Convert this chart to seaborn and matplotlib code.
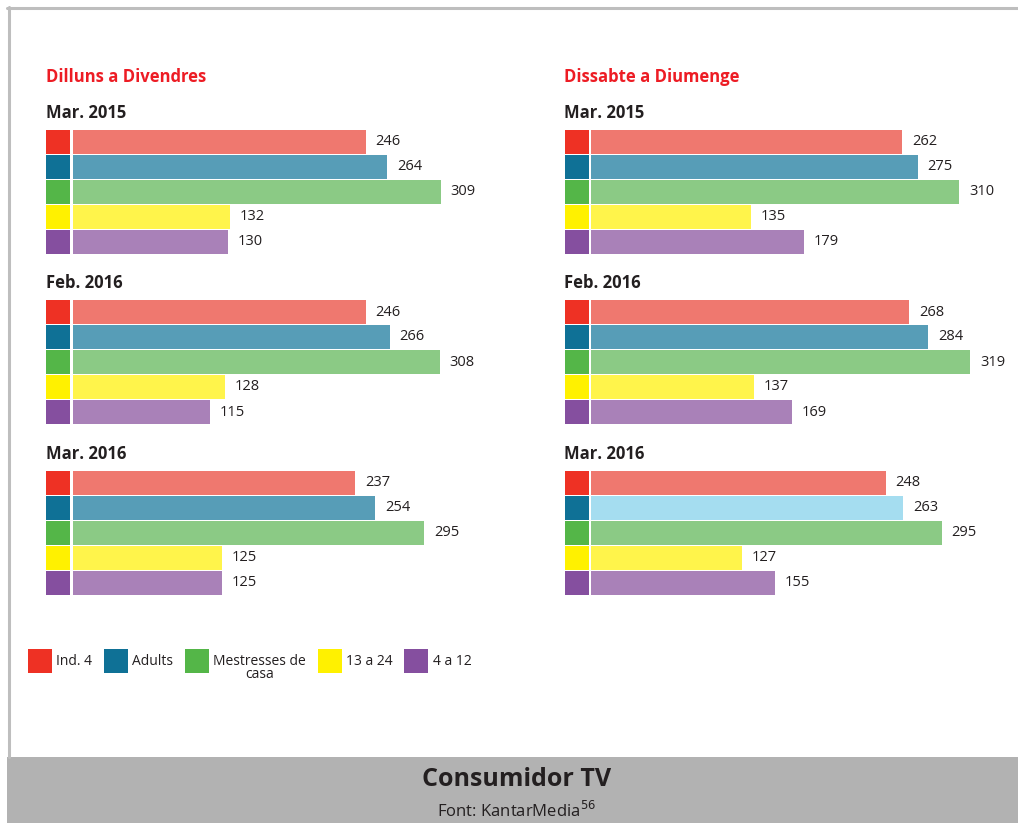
import matplotlib
matplotlib.use("Agg")
import matplotlib.pyplot as plt
import seaborn as sns
import pandas as pd
from matplotlib.patches import Rectangle, Patch
from matplotlib.lines import Line2D

# Data
categories = ["Ind. 4", "Adults", "Mestresses de casa", "13 a 24", "4 a 12"]
periods = ["Mar. 2015", "Feb. 2016", "Mar. 2016"]
sections = ["Dilluns a Divendres", "Dissabte a Diumenge"]

weekday_mar15 = [246, 264, 309, 132, 130]
weekday_feb16 = [246, 266, 308, 128, 115]
weekday_mar16 = [237, 254, 295, 125, 125]
weekend_mar15 = [262, 275, 310, 135, 179]
weekend_feb16 = [268, 284, 319, 137, 169]
weekend_mar16 = [248, 263, 295, 127, 155]

key_colors = ["#EE3124", "#0F7196", "#54B648", "#FFF100", "#854F9F"]
bar_colors = ["#EF786F", "#579DB7", "#8BCA85", "#FFF44B", "#A981B8"]
bar_colors_alt = ["#EF786F", "#A5DDF0", "#8BCA85", "#FFF44B", "#A981B8"]

TXT = "#231F20"
RED = "#ED1C24"

sns.set_theme(style="white")
plt.rcParams["font.family"] = ["Open Sans", "DejaVu Sans"]

W, H = 1018, 823
fig = plt.figure(figsize=(W / 100, H / 100), dpi=100)


def px_axes(left, top, width, height):
    return fig.add_axes([left / W, 1 - (top + height) / H, width / W, height / H])


PX_PER_UNIT = 1.19
GROUP_H = 125
group_tops = [129, 299.5, 470]
columns = [
    {"title": sections[0], "key_x": 46, "bar_x": 73,
     "values": [weekday_mar15, weekday_feb16, weekday_mar16],
     "colors": [bar_colors, bar_colors, bar_colors]},
    {"title": sections[1], "key_x": 564.5, "bar_x": 590.5,
     "values": [weekend_mar15, weekend_feb16, weekend_mar16],
     "colors": [bar_colors, bar_colors, bar_colors_alt]},
]

for col in columns:
    fig.text(col["key_x"] / W, 1 - 76.5 / H, col["title"], color=RED,
             fontsize=12, fontweight="bold", va="center", ha="left")
    for period, vals, cols, top in zip(periods, col["values"], col["colors"], group_tops):
        fig.text(col["key_x"] / W, 1 - (top - 16.5) / H, period, color=TXT,
                 fontsize=12, fontweight="bold", va="center", ha="left")
        df = pd.DataFrame({"cat": categories, "value": vals})

        # colour key squares
        kax = px_axes(col["key_x"], top, 24, GROUP_H)
        sns.barplot(data=df.assign(one=1), x="one", y="cat", hue="cat",
                    palette=key_colors, legend=False, width=0.96, ax=kax,
                    saturation=1, linewidth=0)
        kax.set_xlim(0, 1)
        kax.set_ylim(4.5, -0.5)
        kax.set_axis_off()

        # bars
        bw = 420
        ax = px_axes(col["bar_x"], top, bw, GROUP_H)
        sns.barplot(data=df, x="value", y="cat", hue="cat", palette=cols,
                    legend=False, width=0.96, ax=ax, saturation=1, linewidth=0)
        ax.set_xlim(0, bw / PX_PER_UNIT)
        ax.set_ylim(4.5, -0.5)
        for c in ax.containers:
            ax.bar_label(c, padding=7, fontsize=10.5, color=TXT)
        ax.set_axis_off()

# legend (long label wraps onto a second, centred line)
leg_labels = [c.replace(" casa", "") for c in categories]
handles = [Patch(facecolor=c, edgecolor="none") for c in key_colors]
leg = fig.legend(handles, leg_labels, loc="upper left",
                 bbox_to_anchor=(28 / W, 1 - 649 / H), ncol=5, frameon=False,
                 fontsize=10, handlelength=1.73, handleheight=2.285,
                 handletextpad=0.3, columnspacing=0.85, borderpad=0,
                 borderaxespad=0, labelcolor=TXT)
fig.canvas.draw()
for t, full in zip(leg.get_texts(), categories):
    if full != t.get_text():
        bb = t.get_window_extent()
        fig.text((bb.x0 + bb.x1) / 2 / W, ((bb.y0 + bb.y1) / 2 - 12.5) / H,
                 full.split()[-1], ha="center", va="center", fontsize=10, color=TXT)

# frame and footer
fig.add_artist(Line2D([7 / W, 1], [1 - 8 / H, 1 - 8 / H], color="#BEBEBE", lw=2.2))
fig.add_artist(Line2D([8.5 / W, 8.5 / W], [1 - 7 / H, 1 - 757 / H], color="#BEBEBE", lw=2.2))
fig.add_artist(Rectangle((7 / W, 0), 1 - 7 / W, 66 / H, transform=fig.transFigure,
                         facecolor="#B2B2B2", edgecolor="none"))
fig.text(517 / W, 1 - 779 / H, "Consumidor TV", ha="center", va="center",
         fontsize=18, fontweight="bold", color=TXT)
fig.text(517 / W, 1 - 811 / H, "Font: KantarMedia$^{56}$", ha="center", va="center",
         fontsize=12, color=TXT)

fig.savefig("out.png", dpi=100)
